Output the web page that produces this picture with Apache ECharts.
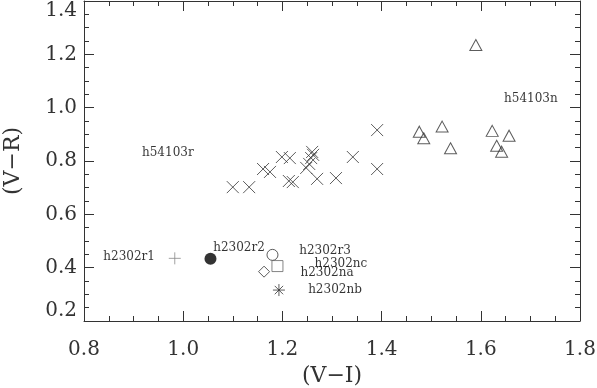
<!DOCTYPE html>
<html>
<head>
<meta charset="utf-8">
<script src="https://cdn.jsdelivr.net/npm/echarts@6/dist/echarts.min.js"></script>
<style>
  html, body { margin: 0; padding: 0; background: #fff; }
  #chart { width: 597px; height: 388px; }
</style>
</head>
<body>
<div id="chart"></div>
<script>
// h54103r field stars (crosses)
const crossVI = [1.100, 1.133, 1.161, 1.175, 1.199, 1.215, 1.213, 1.221, 1.260, 1.262, 1.258, 1.254, 1.248, 1.270, 1.308, 1.342, 1.391, 1.391]
const crossVR = [0.702, 0.702, 0.770, 0.759, 0.815, 0.811, 0.725, 0.721, 0.834, 0.823, 0.811, 0.789, 0.774, 0.733, 0.736, 0.815, 0.770, 0.916]

// h54103n (triangles)
const triVI = [1.476, 1.485, 1.522, 1.539, 1.623, 1.657, 1.632, 1.642, 1.590]
const triVR = [0.910, 0.885, 0.929, 0.848, 0.913, 0.895, 0.857, 0.835, 1.235]

// h2302 group, one point each: [V-I, V-R]
const r1 = [0.983, 0.435]
const r2 = [1.055, 0.433]
const r3 = [1.180, 0.448]
const nc = [1.190, 0.406]
const na = [1.163, 0.385]
const nb = [1.193, 0.316]

// text labels
const labelNames = ['h54103r', 'h54103n', 'h2302r1', 'h2302r2', 'h2302r3', 'h2302nc', 'h2302na', 'h2302nb']
const labelVI = [0.969, 1.701, 0.891, 1.1125, 1.286, 1.318, 1.290, 1.306]
const labelVR = [0.830, 1.0325, 0.440, 0.474, 0.4625, 0.414, 0.380, 0.316]

const ink = '#333'
const serif = 'DejaVu Serif'

const pair = (xs, ys) => xs.map((x, i) => [x, ys[i]])

const tickStyle = { show: true, inside: true, length: 10, lineStyle: { color: ink, width: 1 } }
const minorStyle = { show: true, splitNumber: 4, length: 5, lineStyle: { color: ink, width: 1 } }
const lineStyle = { show: true, lineStyle: { color: ink, width: 1 } }

const chart = echarts.init(document.getElementById('chart'))

const option = {
  backgroundColor: '#fff',
  animation: false,
  grid: { left: 84, right: 17, top: 1, bottom: 67, outerBoundsMode: 'none' },
  xAxis: [
    {
      type: 'value', min: 0.8, max: 1.8, interval: 0.2,
      name: '(V\u2212I)', nameLocation: 'middle', nameGap: 36,
      nameTextStyle: { fontFamily: serif, fontSize: 22, color: ink },
      axisLine: lineStyle, axisTick: tickStyle, minorTick: minorStyle,
      splitLine: { show: false },
      axisLabel: { margin: 19, fontFamily: serif, fontSize: 20, color: ink, formatter: v => v.toFixed(1) }
    },
    {
      type: 'value', position: 'top', min: 0.8, max: 1.8, interval: 0.2,
      axisLine: lineStyle, axisTick: tickStyle, minorTick: minorStyle,
      splitLine: { show: false }, axisLabel: { show: false }
    }
  ],
  yAxis: [
    {
      type: 'value', min: 0.2, max: 1.4, interval: 0.2,
      name: '(V\u2212R)', nameLocation: 'middle', nameGap: 60,
      nameTextStyle: { fontFamily: serif, fontSize: 22, color: ink },
      axisLine: lineStyle, axisTick: tickStyle, minorTick: minorStyle,
      splitLine: { show: false },
      axisLabel: {
        margin: 7, fontFamily: serif, fontSize: 20, color: ink,
        verticalAlignMinLabel: 'bottom', verticalAlignMaxLabel: 'top',
        formatter: v => v.toFixed(1)
      }
    },
    {
      type: 'value', position: 'right', min: 0.2, max: 1.4, interval: 0.2,
      axisLine: lineStyle, axisTick: tickStyle, minorTick: minorStyle,
      splitLine: { show: false }, axisLabel: { show: false }
    }
  ],
  series: [
    {
      type: 'scatter', data: pair(crossVI, crossVR),
      symbol: 'path://M0,0L10,10M10,0L0,10', symbolSize: 12,
      itemStyle: { color: 'none', borderColor: ink, borderWidth: 1 }
    },
    {
      type: 'scatter', data: pair(triVI, triVR),
      symbol: 'triangle', symbolSize: [12, 11],
      itemStyle: { color: 'none', borderColor: ink, borderWidth: 1 }
    },
    {
      type: 'scatter', data: [r1],
      symbol: 'path://M5,0L5,10M0,5L10,5', symbolSize: 12,
      itemStyle: { color: 'none', borderColor: '#888', borderWidth: 1 }
    },
    {
      type: 'scatter', data: [r2],
      symbol: 'circle', symbolSize: 12,
      itemStyle: { color: '#000' }
    },
    {
      type: 'scatter', data: [r3],
      symbol: 'circle', symbolSize: 11,
      itemStyle: { color: 'none', borderColor: ink, borderWidth: 1 }
    },
    {
      type: 'scatter', data: [nc],
      symbol: 'rect', symbolSize: 11,
      itemStyle: { color: 'none', borderColor: '#666', borderWidth: 1 }
    },
    {
      type: 'scatter', data: [na],
      symbol: 'path://M5,0L10,5L5,10L0,5Z', symbolSize: 11,
      itemStyle: { color: 'none', borderColor: ink, borderWidth: 1 }
    },
    {
      type: 'scatter', data: [nb],
      symbol: 'path://M5,0L5,10M0,5L10,5M1.5,1.5L8.5,8.5M8.5,1.5L1.5,8.5', symbolSize: 12,
      itemStyle: { color: 'none', borderColor: ink, borderWidth: 1 }
    },
    {
      type: 'scatter',
      data: labelNames.map((n, i) => [labelVI[i], labelVR[i], n]),
      symbolSize: 0,
      label: {
        show: true, position: 'inside', formatter: p => p.data[2],
        fontFamily: serif, fontSize: 12, color: '#000'
      }
    }
  ]
}

chart.setOption(option)
</script>
</body>
</html>
